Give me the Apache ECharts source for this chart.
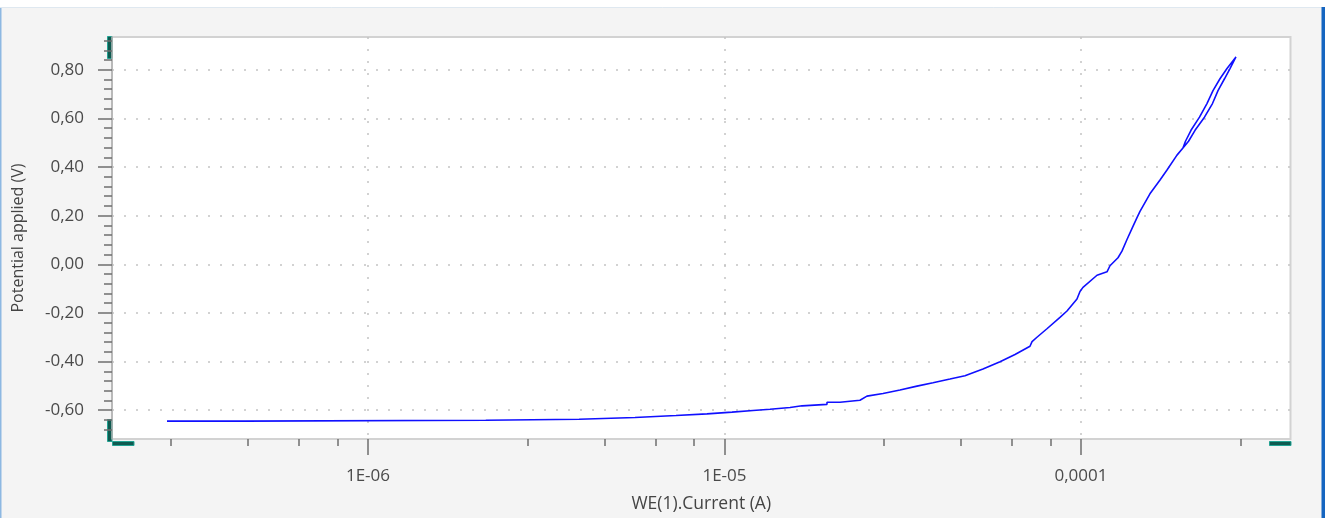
<!DOCTYPE html>
<html>
<head>
<meta charset="utf-8">
<script src="https://cdn.jsdelivr.net/npm/echarts@6/dist/echarts.min.js"></script>
<style>
  html, body { margin: 0; padding: 0; background: #ffffff; }
  #chart { width: 1325px; height: 518px; }
</style>
</head>
<body>
<div id="chart"></div>
<script>
// ---- Data ----
// Current (A), log axis
const currentA = [
  2.73e-7, 4.52e-7, 4.52e-7, 2.14e-6, 2.14e-6, 3.91e-6, 3.91e-6, 5.61e-6, 5.61e-6, 7.31e-6,
  7.31e-6, 8.93e-6, 8.93e-6, 1.05e-5, 1.05e-5, 1.202e-5, 1.202e-5, 1.342e-5, 1.342e-5, 1.527e-5,
  1.527e-5, 1.650e-5, 1.650e-5, 1.939e-5, 1.939e-5, 2.109e-5, 2.109e-5, 2.399e-5, 2.399e-5,
  2.51e-5, 2.784e-5, 3.107e-5, 3.467e-5, 3.845e-5, 4.291e-5, 4.727e-5, 5.310e-5, 5.928e-5,
  6.530e-5, 7.194e-5, 7.29e-5, 7.525e-5, 8.027e-5, 8.731e-5, 9.136e-5, 9.745e-5, 9.936e-5,
  1.013e-4, 1.109e-4, 1.183e-4, 1.206e-4, 1.270e-4, 1.303e-4, 1.346e-4, 1.399e-4, 1.436e-4,
  1.464e-4, 1.561e-4, 1.666e-4, 1.743e-4, 1.859e-4, 1.932e-4,
  2.003e-4, 2.089e-4, 2.220e-4, 2.338e-4, 2.423e-4, 2.527e-4, 2.618e-4, 2.721e-4,
  2.568e-4, 2.454e-4, 2.346e-4, 2.256e-4, 2.150e-4, 2.035e-4, 1.964e-4, 1.932e-4
];
// Potential applied (V)
const potentialV = [
  -0.645, -0.645, -0.641, -0.641, -0.637, -0.637, -0.630, -0.630, -0.622, -0.622,
  -0.615, -0.615, -0.608, -0.608, -0.601, -0.601, -0.596, -0.596, -0.589, -0.589,
  -0.582, -0.582, -0.576, -0.576, -0.567, -0.567, -0.559, -0.559, -0.553,
  -0.542, -0.531, -0.517, -0.501, -0.487, -0.472, -0.458, -0.431, -0.401,
  -0.371, -0.337, -0.318, -0.300, -0.265, -0.218, -0.192, -0.143, -0.112,
  -0.095, -0.045, -0.031, -0.006, 0.027, 0.054, 0.102, 0.156, 0.192,
  0.218, 0.290, 0.347, 0.388, 0.449, 0.478,
  0.506, 0.551, 0.605, 0.661, 0.714, 0.763, 0.805, 0.853,
  0.805, 0.763, 0.714, 0.661, 0.605, 0.551, 0.506, 0.478
];

// Axis ticks and labels
const xMajorTicks = [1e-6, 1e-5, 1e-4];
const xTickLabels = ['1E-06', '1E-05', '0,0001'];
const xMinorTicks = [2.8e-7, 4.6e-7, 6.4e-7, 8.2e-7, 2.8e-6, 4.6e-6, 6.4e-6, 8.2e-6,
                     2.8e-5, 4.6e-5, 6.4e-5, 8.2e-5, 2.8e-4];
const yMajorTicks = [-0.6, -0.4, -0.2, 0, 0.2, 0.4, 0.6, 0.8];
const yTickLabels = ['-0,60', '-0,40', '-0,20', '0,00', '0,20', '0,40', '0,60', '0,80'];
const yMinorTicks = [-0.68, -0.64, -0.56, -0.52, -0.48, -0.44, -0.36, -0.32, -0.28, -0.24,
                     -0.16, -0.12, -0.08, -0.04, 0.04, 0.08, 0.12, 0.16, 0.24, 0.28,
                     0.32, 0.36, 0.44, 0.48, 0.52, 0.56, 0.64, 0.68, 0.72, 0.76,
                     0.84, 0.88, 0.92];
const xMin = 1.914e-7, xMax = 3.87e-4;
const yMin = -0.7184, yMax = 0.9347;
const xTitle = 'WE(1).Current (A)';
const yTitle = 'Potential applied (V)';

const seriesData = currentA.map((c, i) => [c, potentialV[i]]);

const FONT = 'Open Sans';
const tickColor = '#6e6e6e';
const chart = echarts.init(document.getElementById('chart'), null, { renderer: 'canvas' });

function nearestLabel(v, vals, labels) {
  let best = 0, bd = Infinity;
  vals.forEach((t, i) => { const d = Math.abs(t - v) / (Math.abs(t) + 1e-9); if (d < bd) { bd = d; best = i; } });
  return labels[best];
}

const option = {
  backgroundColor: '#f4f4f4',
  animation: false,
  grid: {
    left: 112, right: 34.5, top: 37, bottom: 77,
    show: true, backgroundColor: '#ffffff', borderColor: '#d2d2d2', borderWidth: 2
  },
  xAxis: [
    {
      type: 'log', min: xMin, max: xMax, position: 'bottom',
      name: xTitle, nameLocation: 'middle', nameGap: 56,
      nameTextStyle: { fontFamily: FONT, fontSize: 17.5, color: '#444' },
      axisLine: { show: false, onZero: false },
      axisTick: { show: true, customValues: xMajorTicks, length: 16, lineStyle: { color: tickColor, width: 1.5 } },
      axisLabel: {
        customValues: xMajorTicks, margin: 29, fontFamily: FONT, fontSize: 17, color: '#4a4a4a',
        formatter: v => nearestLabel(v, xMajorTicks, xTickLabels)
      },
      splitLine: { show: true, lineStyle: { color: '#c4c4c4', width: 1.5, type: [2, 10] } },
      minorTick: { show: false }, minorSplitLine: { show: false }
    },
    {
      type: 'log', min: xMin, max: xMax, position: 'bottom',
      axisLine: { show: false, onZero: false },
      axisTick: { show: true, customValues: xMinorTicks, length: 7, lineStyle: { color: tickColor, width: 1.5 } },
      axisLabel: { show: false },
      splitLine: { show: false }
    }
  ],
  yAxis: [
    {
      type: 'value', min: yMin, max: yMax, position: 'left',
      name: yTitle, nameLocation: 'middle', nameGap: 86, nameRotate: 90,
      nameTextStyle: { fontFamily: FONT, fontSize: 16, color: '#444' },
      axisLine: { show: true, onZero: false, lineStyle: { color: '#b0b0b0', width: 1.5 } },
      axisTick: { show: true, customValues: yMajorTicks, length: 14, lineStyle: { color: tickColor, width: 1.5 } },
      axisLabel: {
        customValues: yMajorTicks, margin: 28, fontFamily: FONT, fontSize: 17, color: '#4a4a4a',
        formatter: v => nearestLabel(v, yMajorTicks, yTickLabels)
      },
      splitLine: { show: true, lineStyle: { color: '#c4c4c4', width: 1.5, type: [2, 10] } }
    },
    {
      type: 'value', min: yMin, max: yMax, position: 'left',
      axisLine: { show: false, onZero: false },
      axisTick: { show: true, customValues: yMinorTicks, length: 8, lineStyle: { color: tickColor, width: 1.5 } },
      axisLabel: { show: false },
      splitLine: { show: false }
    }
  ],
  series: [{
    type: 'line', xAxisIndex: 0, yAxisIndex: 0,
    data: seriesData, showSymbol: false, symbol: 'none', smooth: false,
    lineStyle: { color: '#1010ff', width: 1.6 },
    clip: true
  }],
  graphic: [
    // panel frame
    { type: 'rect', shape: { x: 0, y: 0, width: 1325, height: 7 }, style: { fill: '#ffffff' }, silent: true },
    { type: 'line', shape: { x1: 0.75, y1: 7, x2: 0.75, y2: 518 }, style: { stroke: '#8db8e2', lineWidth: 1.5 }, silent: true },
    { type: 'line', shape: { x1: 0, y1: 7.5, x2: 1325, y2: 7.5 }, style: { stroke: '#dfe8f0', lineWidth: 1 }, silent: true },
    { type: 'rect', shape: { x: 1321.5, y: 7, width: 3.5, height: 511 }, style: { fill: '#1565c0' }, silent: true },
    // scroll / zoom handles
    { type: 'rect', shape: { x: 107.5, y: 36.5, width: 4.5, height: 22 }, style: { fill: '#0f5a50', stroke: '#22a393', lineWidth: 1 }, silent: true },
    { type: 'rect', shape: { x: 107.5, y: 419.5, width: 4.5, height: 22 }, style: { fill: '#0f5a50', stroke: '#22a393', lineWidth: 1 }, silent: true },
    { type: 'rect', shape: { x: 112.5, y: 441.5, width: 21.5, height: 4 }, style: { fill: '#0f5a50', stroke: '#22a393', lineWidth: 1 }, silent: true },
    { type: 'rect', shape: { x: 1269.5, y: 441.5, width: 21.5, height: 4 }, style: { fill: '#0f5a50', stroke: '#22a393', lineWidth: 1 }, silent: true }
  ]
};
chart.setOption(option);
</script>
</body>
</html>
